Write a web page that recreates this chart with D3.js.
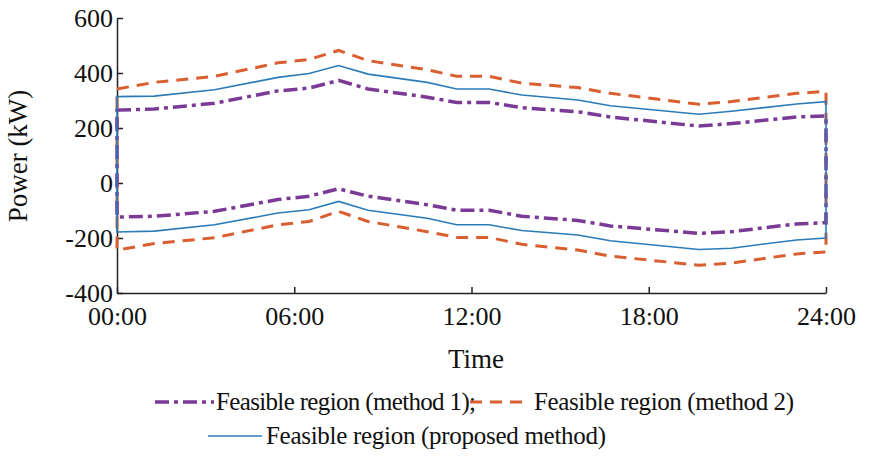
<!DOCTYPE html>
<html><head><meta charset="utf-8">
<script src="https://cdn.jsdelivr.net/npm/d3@7"></script>
<style>body{margin:0;background:#fff}text{font-family:"Liberation Serif","Times New Roman",serif;fill:#111}</style>
</head><body><svg id="c" width="894" height="464"></svg>
<script>
var hours = [0, 1.26, 3.3, 5.45, 6.5, 7.5, 8.5, 10.5, 11.5, 12.6, 13.7, 15.6, 16.7, 19.7, 20.8, 23, 24];
var m1Upper = [265, 269, 290, 335, 345, 373, 342, 312, 293, 293, 274, 259, 240, 207, 216, 240, 244];
var m1Lower = [-124, -121, -103, -60, -48, -21, -48, -79, -99, -99, -121, -136, -156, -183, -177, -149, -144];
var m2Upper = [342, 366, 388, 437, 449, 482, 445, 412, 388, 388, 363, 347, 326, 286, 296, 326, 333];
var m2Lower = [-244, -220, -199, -152, -140, -103, -140, -177, -198, -198, -223, -244, -266, -299, -291, -258, -251];
var pUpper = [314, 316, 339, 384, 398, 427, 396, 366, 342, 342, 320, 302, 281, 250, 261, 287, 296];
var pLower = [-178, -175, -152, -109, -97, -67, -99, -128, -152, -152, -173, -189, -210, -242, -237, -207, -200];
var xTicks = [0, 6, 12, 18, 24];
var xTickLabels = ["00:00", "06:00", "12:00", "18:00", "24:00"];
var yTicks = [-400, -200, 0, 200, 400, 600];

var svg = d3.select("#c");
var x = d3.scaleLinear().domain([0, 24]).range([117, 826]);
var y = d3.scaleLinear().domain([-400, 600]).range([293, 18]);

// axes (ticks inward)
svg.append("g").attr("transform", "translate(0,293)")
    .call(d3.axisBottom(x).tickValues(xTicks).tickFormat(function (d, i) { return xTickLabels[i]; }).tickSizeInner(-6).tickSizeOuter(0).tickPadding(12))
    .call(function (g) { g.select(".domain").attr("stroke", "#222").attr("stroke-width", 1.5); g.selectAll("line").attr("stroke", "#222").attr("stroke-width", 1.5); g.selectAll("text").style("font-size", "26px").attr("dy", "0.75em"); });
svg.append("g").attr("transform", "translate(117,0)")
    .call(d3.axisLeft(y).tickValues(yTicks).tickFormat(function (d) { return String(d); }).tickSizeInner(-6).tickSizeOuter(0).tickPadding(4))
    .call(function (g) { g.select(".domain").attr("stroke", "#222").attr("stroke-width", 1.5); g.selectAll("line").attr("stroke", "#222").attr("stroke-width", 1.5); g.selectAll("text").style("font-size", "26px"); });

svg.append("text").attr("x", 476).attr("y", 368).attr("text-anchor", "middle").style("font-size", "27px").text("Time");
svg.append("text").attr("transform", "translate(27,156) rotate(-90)").attr("text-anchor", "middle").style("font-size", "27px").text("Power (kW)");

function region(up, lo) {
    var pts = hours.map(function (h, i) { return [x(h), y(up[i])]; });
    for (var i = hours.length - 1; i >= 0; i--) pts.push([x(hours[i]), y(lo[i])]);
    return d3.line()(pts) + "Z";
}
var series = [
    {up: m2Upper, lo: m2Lower, color: "#d95f30", w: 3, dash: "12,8"},
    {up: m1Upper, lo: m1Lower, color: "#7b3a96", w: 3.5, dash: "14,5,4,5"},
    {up: pUpper, lo: pLower, color: "#2b7bb9", w: 1.6, dash: null}
];
series.forEach(function (s) {
    svg.append("path").attr("d", region(s.up, s.lo)).attr("fill", "none")
        .attr("stroke", s.color).attr("stroke-width", s.w).attr("stroke-dasharray", s.dash);
});

// legend
var leg = [
    {x1: 155, x2: 214, ty: 410, tx: 216, s: series[1], label: "Feasible region (method 1);"},
    {x1: 470, x2: 530, ty: 410, tx: 534, s: series[0], label: "Feasible region (method 2)"},
    {x1: 208, x2: 262, ty: 444, tx: 266, s: series[2], label: "Feasible region (proposed method)"}
];
leg.forEach(function (l) {
    svg.append("line").attr("x1", l.x1).attr("x2", l.x2).attr("y1", l.ty - 8).attr("y2", l.ty - 8)
        .attr("stroke", l.s.color).attr("stroke-width", l.s.w).attr("stroke-dasharray", l.s.dash);
    svg.append("text").attr("x", l.tx).attr("y", l.ty).style("font-size", "25px").attr("textLength", l.label.length > 27 ? 340 : 260).text(l.label);
});
</script></body></html>
